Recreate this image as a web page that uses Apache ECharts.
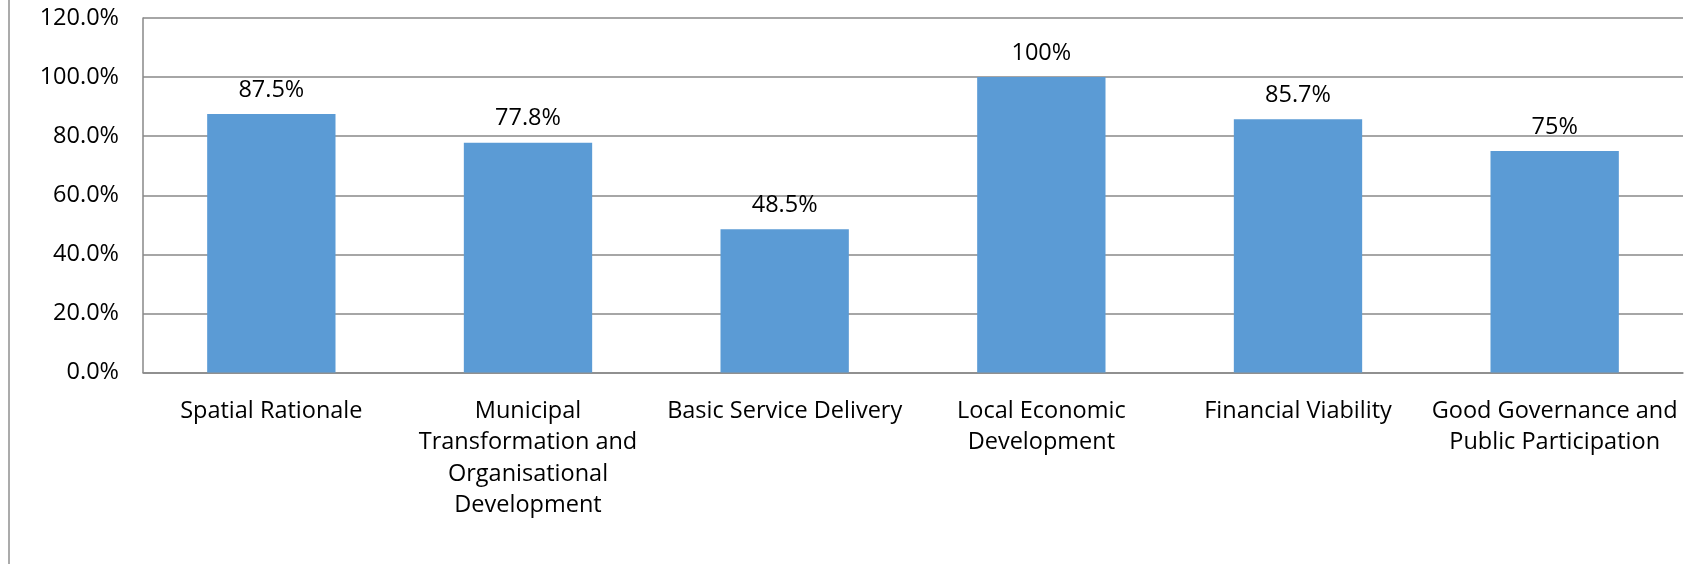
<!DOCTYPE html>
<html>
<head>
<meta charset="utf-8">
<script src="https://cdn.jsdelivr.net/npm/echarts@6/dist/echarts.min.js"></script>
<style>html,body{margin:0;padding:0;background:#fff}#c{width:1684px;height:564px}</style>
</head>
<body>
<div id="c"></div>
<script>
var categories = [
  'Spatial Rationale',
  'Municipal\nTransformation and\nOrganisational\nDevelopment',
  'Basic Service Delivery',
  'Local Economic\nDevelopment',
  'Financial Viability',
  'Good Governance and\nPublic Participation'
];
var values = [87.5, 77.8, 48.5, 100, 85.7, 75];
var yMin = 0, yMax = 120, yStep = 20;

var FONT = '"Open Sans", "Noto Sans", sans-serif';
var FS = 23.5;
var chart = echarts.init(document.getElementById('c'), null, {renderer: 'canvas'});
chart.setOption({
  animation: false,
  backgroundColor: '#fff',
  textStyle: {fontFamily: FONT},
  graphic: [{
    type: 'line', silent: true,
    shape: {x1: 9, y1: 0, x2: 9, y2: 564},
    style: {stroke: '#ababab', lineWidth: 2}
  }],
  grid: {left: 143, right: 1, top: 18, bottom: 191.5, containLabel: false},
  xAxis: {
    type: 'category',
    data: categories,
    axisLine: {show: true, lineStyle: {color: '#898989', width: 1.5}},
    axisTick: {show: false},
    axisLabel: {
      interval: 0, color: '#000', fontSize: FS, fontFamily: FONT,
      lineHeight: 31.5, margin: 23, align: 'center'
    }
  },
  yAxis: {
    type: 'value', min: yMin, max: yMax, interval: yStep,
    axisLine: {show: true, lineStyle: {color: '#898989', width: 1.5}},
    axisTick: {show: false},
    splitLine: {show: true, lineStyle: {color: '#898989', width: 1.5}},
    axisLabel: {
      color: '#000', fontSize: FS, fontFamily: FONT, margin: 24,
      formatter: function (v) { return v.toFixed(1) + '%'; }
    }
  },
  series: [{
    type: 'bar',
    data: values,
    barWidth: '50%',
    itemStyle: {color: '#5B9BD5'},
    label: {
      show: true, position: 'top', distance: 12,
      color: '#000', fontSize: FS, fontFamily: FONT,
      formatter: function (p) { return p.value + '%'; }
    }
  }]
});
</script>
</body>
</html>
